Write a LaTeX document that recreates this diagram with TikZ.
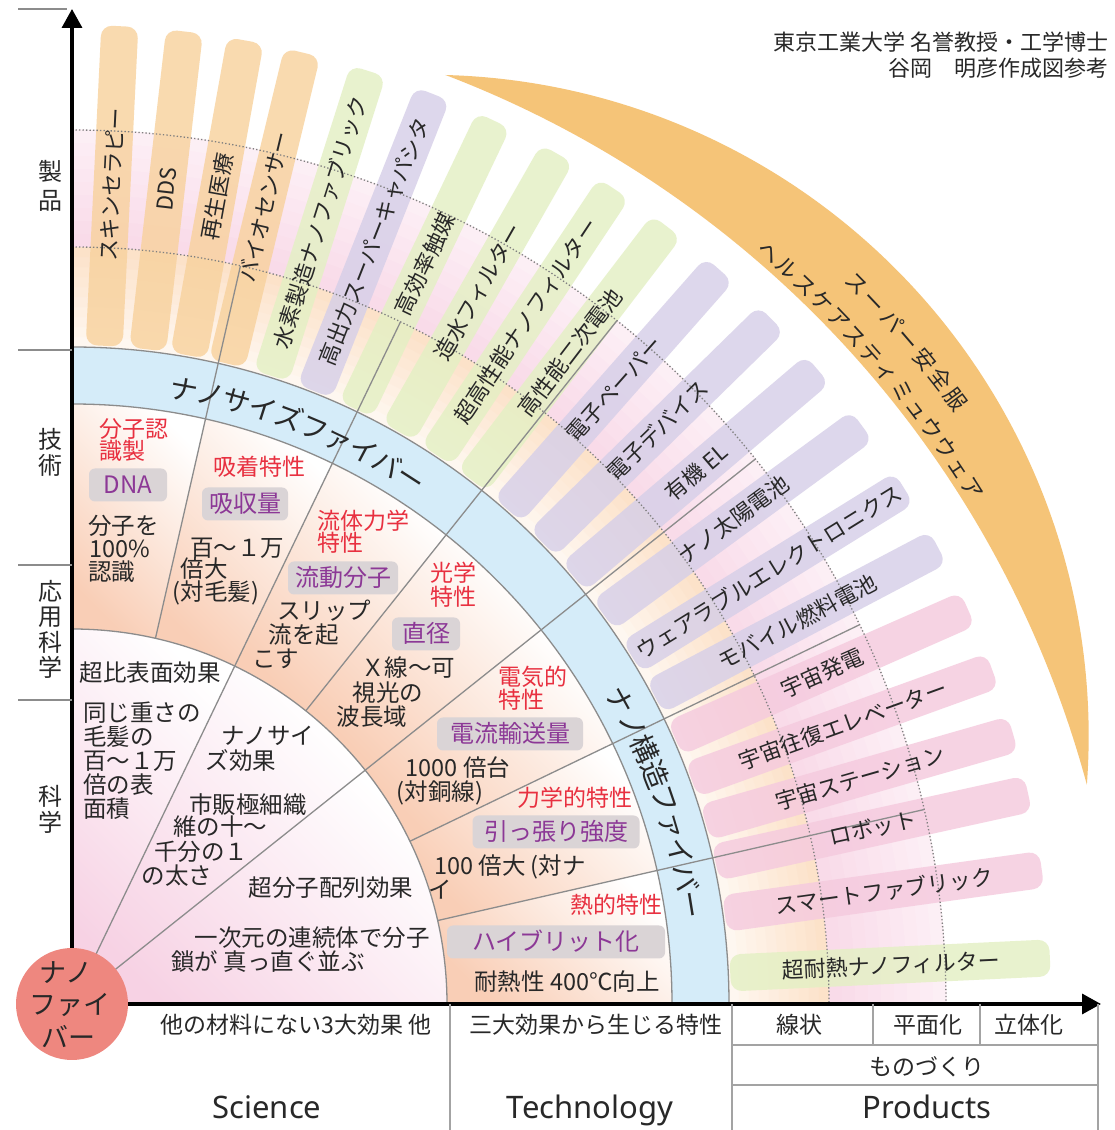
\documentclass[tikz,border=0pt]{standalone}
\usepackage{fontspec}
\setmainfont{Noto Sans CJK JP}
\newfontfamily\jpf{Noto Sans CJK JP}
\newfontfamily\latf{Noto Sans}
\usetikzlibrary{arrows.meta}
\definecolor{txtk}{RGB}{40,40,40}
\definecolor{redt}{RGB}{232,48,64}
\definecolor{purt}{RGB}{140,56,150}
\definecolor{boxg}{RGB}{218,212,214}
\definecolor{peach}{RGB}{249,206,182}
\definecolor{spink}{RGB}{247,210,228}
\definecolor{blueb}{RGB}{213,236,249}
\definecolor{bandpeach}{RGB}{252,222,194}
\definecolor{bandpink}{RGB}{248,212,229}
\definecolor{borange}{RGB}{248,210,158}
\definecolor{bgreen}{RGB}{228,240,196}
\definecolor{bpurple}{RGB}{214,207,232}
\definecolor{bpink}{RGB}{245,202,222}
\definecolor{cres}{RGB}{245,196,120}
\definecolor{nfc}{RGB}{238,135,127}
\definecolor{lgray}{RGB}{140,140,140}
\begin{document}
\begin{tikzpicture}[x=1pt,y=1pt,font=\jpf,
  sci/.style={inner sep=0pt,text=txtk,font=\jpf\fontsize{23.5}{24}\selectfont,text height=20.7pt,text depth=2.8pt},
  redtxt/.style={inner sep=0pt,text=redt,font=\jpf\fontsize{23}{23}\selectfont,text height=20.2pt,text depth=2.8pt},
  pbox/.style={fill=boxg,rounded corners=6pt,text=purt,inner sep=0pt,minimum height=33pt,font=\jpf\fontsize{24}{24}\selectfont,text height=21pt,text depth=3pt},
  prodbar/.style={rounded corners=11pt,minimum width=320pt,minimum height=37pt,inner sep=0pt,fill opacity=0.82},
  prodtxt/.style={inner sep=0pt,text=txtk,font=\jpf\fontsize{22}{22}\selectfont,text height=19.4pt,text depth=2.6pt},
  bandtxt/.style={inner sep=0pt,text=txtk,font=\jpf\fontsize{28}{28}\selectfont,text height=24.6pt,text depth=3.4pt},
  crestxt/.style={inner sep=0pt,text=txtk,font=\jpf\fontsize{22}{22}\selectfont,text height=19.4pt,text depth=2.6pt},
  glabel/.style={inner sep=0pt,text=txtk,font=\jpf\fontsize{24}{24}\selectfont,text height=21pt,text depth=3pt},
  tabtxt/.style={inner sep=0pt,text=txtk,font=\jpf\fontsize{23}{23}\selectfont,text height=20.2pt,text depth=2.8pt},
  engtxt/.style={inner sep=0pt,text=txtk,font=\latf\fontsize{31}{31}\selectfont,anchor=base},
  nftxt/.style={inner sep=0pt,text=txtk,font=\jpf\fontsize{27}{27}\selectfont,text height=23.8pt,text depth=3.2pt},
  credit/.style={inner sep=0pt,text=txtk,font=\jpf\fontsize{22}{22}\selectfont,anchor=east,text height=19.4pt,text depth=2.6pt},
  grayline/.style={draw=lgray,line width=1.3pt},
  tabline/.style={draw=lgray!80,line width=1.2pt},
  dotline/.style={draw=gray,line width=1.3pt,dash pattern=on 1.3pt off 2.2pt},
  axisline/.style={line width=3.5pt,-{Triangle[length=19pt,width=20pt]}},
]
\useasboundingbox (0,0) rectangle (1114,1130);
\fill[white] (0,0) rectangle (1114,1130);
\coordinate (O) at (72,126);
\coordinate (Ytop) at (72,1121);
\coordinate (Xend) at (1101,126);

% crescent
\fill[cres] (445,1055) arc[start angle=88.5,end angle=-4.25,radius=661] arc[start angle=15.1,end angle=69.1,radius=1053.4] -- cycle;
\begin{scope}[shift={(70,70.6)}]
\foreach \ch [count=\i] in {ス,ー,パ,ー,安,全,服}{
  \pgfmathsetmacro\ca{44.6-(\i-1)*1.32}
  \node[crestxt,rotate=\ca-90] (crA\i) at (\ca:1105) {\ch};}
\foreach \ch [count=\i] in {ヘ,ル,ス,ケ,ア,ス,テ,ィ,ミ,ュ,ウ,ウ,ェ,ア}{
  \pgfmathsetmacro\ca{49.1-(\i-1)*1.29}
  \node[crestxt,rotate=\ca-90] (crB\i) at (\ca:1068) {\ch};}
\end{scope}

\begin{scope}[shift={(72,126)}]
% product bands
\foreach \i in {0,...,9}{
  \pgfmathsetmacro\ra{657+\i*10}
  \pgfmathsetmacro\rb{\ra+10.6}
  \pgfmathtruncatemacro\pc{25+\i*7}
  \fill[bandpeach!\pc!white] (0:\ra) arc[start angle=0,end angle=90,radius=\ra] -- (90:\rb) arc[start angle=90,end angle=0,radius=\rb] -- cycle;}
\foreach \i in {0,...,8}{
  \pgfmathsetmacro\ra{757+\i*13}
  \pgfmathsetmacro\rb{\ra+13.6}
  \pgfmathtruncatemacro\pc{85-\i*6}
  \fill[bandpink!\pc!white] (0:\ra) arc[start angle=0,end angle=90,radius=\ra] -- (90:\rb) arc[start angle=90,end angle=0,radius=\rb] -- cycle;}
% product bars
\foreach \ang/\col [count=\i] in {87.2/borange,83.4/borange,79.8/borange,76.4/borange,72.4/bgreen,68.4/bpurple,64.5/bgreen,60.3/bgreen,56.4/bgreen,52.6/bgreen,48.6/bpurple,44.4/bpurple,40.4/bpurple,36.2/bpurple,31.8/bpurple,27.8/bpurple,23.8/bpink,19.9/bpink,16.0/bpink,12.4/bpink,7.9/bpink,2.7/bgreen}{
  \node[prodbar,fill=\col,rotate=\ang] (bar\i) at (\ang:819) {};}
% dotted arcs
\draw[dotline] (90:757) arc[start angle=90,end angle=0,radius=757];
\draw[dotline] (90:874) arc[start angle=90,end angle=0,radius=874];
% blue band
\fill[blueb] (0:600) arc[start angle=0,end angle=90,radius=600] -- (90:657) arc[start angle=90,end angle=0,radius=657] -- cycle;
% technology sectors
\foreach \k in {0,...,6}{
  \pgfmathsetmacro\angA{\k*90/7}
  \pgfmathsetmacro\angB{(\k+1)*90/7}
  \shade[left color=peach,right color=white,shading angle=135]
    (\angA:375) -- (\angA:600) arc[start angle=\angA,end angle=\angB,radius=600] -- (\angB:375) arc[start angle=\angB,end angle=\angA,radius=375] -- cycle;}
% science sectors
\foreach \angA/\angB in {0/38.571,38.571/64.286,64.286/90}{
  \shade[left color=spink,right color=white,shading angle=135]
    (0,0) -- (\angA:375) arc[start angle=\angA,end angle=\angB,radius=375] -- cycle;}
% arcs and radial lines
\draw[grayline] (0:375) arc[start angle=0,end angle=90,radius=375];
\draw[grayline] (0:600) arc[start angle=0,end angle=90,radius=600];
\draw[grayline] (0:657) arc[start angle=0,end angle=90,radius=657];
\draw[grayline] (77.143:375) -- (77.143:757);
\draw[grayline] (64.286:0) -- (64.286:757);
\draw[grayline] (51.429:375) -- (51.429:874);
\draw[grayline] (38.571:0) -- (38.571:874);
\draw[grayline] (25.714:375) -- (25.714:874);
\draw[grayline] (12.857:375) -- (12.857:874);
% band texts
\foreach \ch [count=\i] in {ナ,ノ,サ,イ,ズ,フ,ァ,イ,バ,ー}{
  \pgfmathsetmacro\ca{79.7-(\i-1)*2.5}
  \node[bandtxt,rotate=\ca-90] (nsf\i) at (\ca:625) {\ch};}
\foreach \ch [count=\i] in {ナ,ノ,構,造,フ,ァ,イ,バ,ー}{
  \pgfmathsetmacro\ca{28.9-(\i-1)*2.47}
  \node[bandtxt,rotate=\ca-90] (nkf\i) at (\ca:627) {\ch};}
% product texts
\foreach \ang/\txt [count=\i] in {87.2/スキンセラピー,83.4/DDS,79.8/再生医療,76.4/バイオセンサー,72.4/水素製造ナノファブリック,68.4/高出力スーパーキャパシタ,64.5/高効率触媒,60.3/造水フィルター,56.4/超高性能ナノフィルター,52.6/高性能二次電池,48.6/電子ペーパー,44.4/電子デバイス,40.4/有機 EL,36.2/ナノ太陽電池,31.8/ウェアラブルエレクトロニクス,27.8/モバイル燃料電池,23.8/宇宙発電,19.9/宇宙往復エレベーター,16.0/宇宙ステーション,12.4/ロボット,7.9/スマートファブリック,2.7/超耐熱ナノフィルター}{
  \node[prodtxt,rotate=\ang] (ptx\i) at (\ang:820) {\txt};}
\end{scope}

% science texts
\node[sci] (s1) at (150,457) {超比表面効果};
\node[sci,anchor=west] (s2a) at (83,417) {同じ重さの};
\node[sci,anchor=west] (s2b) at (83,393) {毛髪の};
\node[sci,anchor=west] (s2c) at (83,369) {百～１万};
\node[sci,anchor=west] (s2d) at (83,345) {倍の表};
\node[sci,anchor=west] (s2e) at (83,321) {面積};
\node[sci] (s3a) at (268,394) {ナノサイ};
\node[sci] (s3b) at (241,369) {ズ効果};
\node[sci] (s4a) at (248,325) {市販極細織};
\node[sci] (s4b) at (220,303) {維の十～};
\node[sci] (s4c) at (201,278) {千分の１};
\node[sci] (s4d) at (177,254) {の太さ};
\node[sci] (s5) at (331,242) {超分子配列効果};
\node[sci] (s6a) at (312,192) {一次元の連続体で分子};
\node[sci] (s6b) at (268,168) {鎖が 真っ直ぐ並ぶ};

% technology texts
\node[redtxt,anchor=west] (t1a) at (99,701) {分子認};
\node[redtxt,anchor=west] (t1b) at (99,679) {識製};
\node[pbox,minimum width=78pt] (t1c) at (128,645) {DNA};
\node[sci,anchor=west] (t1d) at (88,604) {分子を};
\node[sci,anchor=west] (t1e) at (89,581) {100\%};
\node[sci,anchor=west] (t1f) at (88,558) {認識};
\node[redtxt] (t2a) at (259,663) {吸着特性};
\node[pbox,minimum width=86pt] (t2b) at (245,626) {吸収量};
\node[sci] (t2c) at (237,582) {百～１万};
\node[sci] (t2d) at (204,561) {倍大};
\node[sci] (t2e) at (216,538) {(対毛髪)};
\node[redtxt,anchor=west] (t3a) at (317,609) {流体力学};
\node[redtxt,anchor=west] (t3b) at (317,587) {特性};
\node[pbox,minimum width=110pt] (t3c) at (343,552) {流動分子};
\node[sci] (t3d) at (324,519) {スリップ};
\node[sci] (t3e) at (304,495) {流を起};
\node[sci] (t3f) at (276,471) {こす};
\node[redtxt,anchor=west] (t4a) at (430,557) {光学};
\node[redtxt,anchor=west] (t4b) at (430,533) {特性};
\node[pbox,minimum width=68pt] (t4c) at (426,496) {直径};
\node[sci] (t4d) at (408,462) {Ｘ線～可};
\node[sci] (t4e) at (388,437) {視光の};
\node[sci] (t4f) at (372,413) {波長域};
\node[redtxt,anchor=west] (t5a) at (498,453) {電気的};
\node[redtxt,anchor=west] (t5b) at (498,430) {特性};
\node[pbox,minimum width=146pt] (t5c) at (510,396) {電流輸送量};
\node[sci] (t5d) at (458,362) {1000 倍台};
\node[sci] (t5e) at (440,338) {(対銅線)};
\node[redtxt] (t6a) at (575,332) {力学的特性};
\node[pbox,minimum width=167pt] (t6b) at (556,298) {引っ張り強度};
\node[sci] (t6c) at (510,264) {100 倍大 (対ナ};
\node[sci] (t6d) at (440,240) {イ};
\node[redtxt] (t7a) at (616,225) {熱的特性};
\node[pbox,minimum width=218pt] (t7b) at (556,188) {ハイブリット化};
\node[sci] (t7c) at (567,148) {耐熱性 400℃向上};

% axes
\draw[axisline] (O) -- (Ytop);
\draw[axisline] (O) -- (Xend);

% nanofiber circle
\fill[nfc] (O) circle[radius=56];
\node[nftxt] (nf1) at (66,158) {ナノ};
\node[nftxt] (nf2) at (70,126) {ファイ};
\node[nftxt] (nf3) at (68,93) {バー};

% left labels
\draw[grayline] (18,1121) -- (67,1121);
\draw[grayline] (18,780) -- (72,780);
\draw[grayline] (18,565) -- (72,565);
\draw[grayline] (18,430) -- (72,430);
\node[glabel] (l1a) at (50,958) {製};
\node[glabel] (l1b) at (50,929) {品};
\node[glabel] (l2a) at (50,690) {技};
\node[glabel] (l2b) at (50,664) {術};
\node[glabel] (l3a) at (50,538) {応};
\node[glabel] (l3b) at (50,513) {用};
\node[glabel] (l3c) at (50,487) {科};
\node[glabel] (l3d) at (50,462) {学};
\node[glabel] (l4a) at (50,333) {科};
\node[glabel] (l4b) at (50,307) {学};

% bottom table
\draw[tabline] (450,126) -- (450,0);
\draw[tabline] (732,126) -- (732,0);
\draw[tabline] (1098,126) -- (1098,0);
\draw[tabline] (873,126) -- (873,85);
\draw[tabline] (980,126) -- (980,85);
\draw[tabline] (732,85) -- (1098,85);
\draw[tabline] (732,45) -- (1098,45);
\node[tabtxt] (b1) at (296,105) {他の材料にない3大効果 他};
\node[tabtxt] (b2) at (596,105) {三大効果から生じる特性};
\node[tabtxt] (b3) at (799,105) {線状};
\node[tabtxt] (b4) at (928,105) {平面化};
\node[tabtxt] (b5) at (1029,105) {立体化};
\node[tabtxt] (b6) at (927,63) {ものづくり};
\node[engtxt] (e1) at (267,11) {Science};
\node[engtxt] (e2) at (590,11) {Technology};
\node[engtxt] (e3) at (927,11) {Products};

% credit
\node[credit] (c1) at (1109,1088) {東京工業大学 名誉教授・工学博士};
\node[credit] (c2) at (1109,1062) {谷岡　明彦作成図参考};
\end{tikzpicture}
\end{document}
